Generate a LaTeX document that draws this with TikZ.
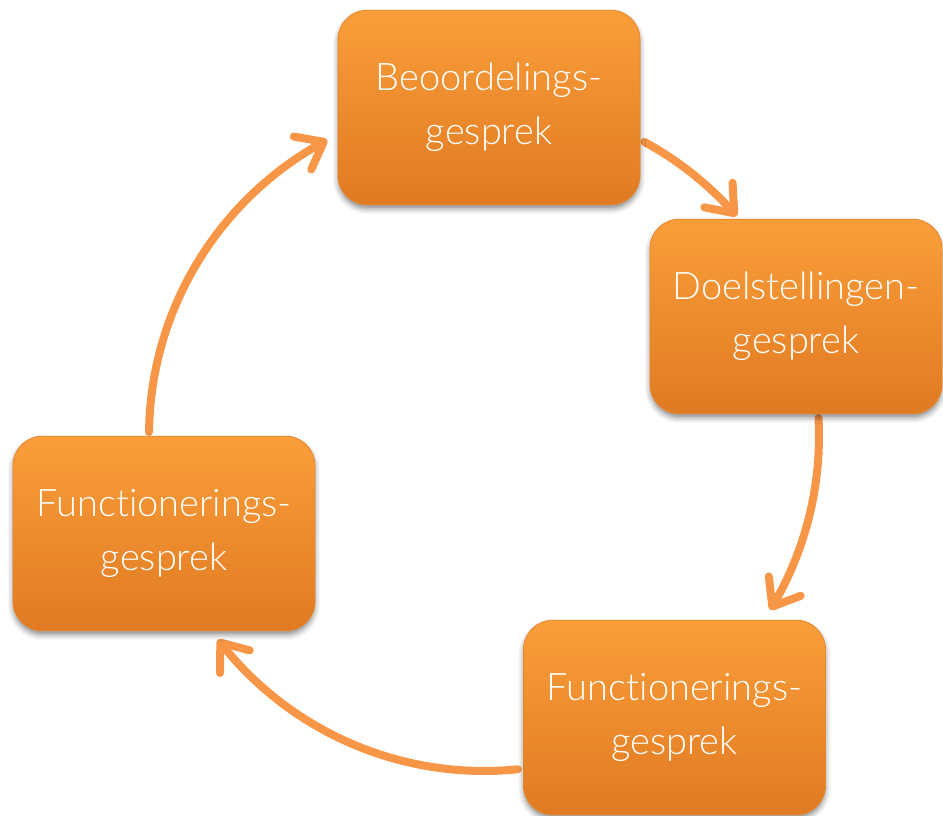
\documentclass[tikz,border=0pt]{standalone}
\usepackage{fontspec}
\setmainfont{Lato Light}[Ligatures=NoCommon]
\usetikzlibrary{arrows.meta,bending,shadows.blur}
\definecolor{arrowc}{HTML}{F79646}
\definecolor{boxtop}{HTML}{FA9E3A}
\definecolor{boxbot}{HTML}{E07A22}
\definecolor{boxedge}{HTML}{E8862C}
\begin{document}
\begin{tikzpicture}[x=0.75pt,y=0.75pt,
  stage/.style={rounded corners=22pt, top color=boxtop, bottom color=boxbot,
    draw=boxedge, line width=0.6pt, minimum width=226.5pt, minimum height=146pt,
    text=white, align=center, font=\fontsize{28.5}{40.5}\selectfont, inner sep=0pt,
    blur shadow={shadow xshift=0pt, shadow yshift=-3pt, shadow blur radius=4pt, shadow opacity=45}},
  cyc/.style={draw=arrowc, line width=6pt, line cap=round,
    -{Straight Barb[length=18pt,width=28pt,round,flex]}}]
\useasboundingbox (0,0) rectangle (943,-816);
\coordinate (c) at (484,-436);
\coordinate (s1) at ([shift={(179.3:251.25pt)}]c);
\coordinate (s2) at ([shift={(61.4:251.25pt)}]c);
\coordinate (s3) at ([shift={(3.1:251.25pt)}]c);
\coordinate (s4) at ([shift={(-84.2:251.25pt)}]c);
\draw[cyc] (s1) arc[start angle=179.3, end angle=117.9, radius=251.25pt];
\draw[cyc] (s2) arc[start angle=61.4, end angle=41, radius=251.25pt];
\draw[cyc] (s3) arc[start angle=3.1, end angle=-31.3, radius=251.25pt];
\draw[cyc] (s4) arc[start angle=-84.2, end angle=-142.6, radius=251.25pt];
\node[stage] (beo) at (489,-107.5) {Beoordelings-\\gesprek};
\node[stage, minimum width=219pt] (doel) at (796,-316.5) {Doelstellingen-\\gesprek};
\node[stage] (fun1) at (674.5,-717.5) {Functionerings-\\gesprek};
\node[stage] (fun2) at (164,-533.5) {Functionerings-\\gesprek};
\end{tikzpicture}
\end{document}
